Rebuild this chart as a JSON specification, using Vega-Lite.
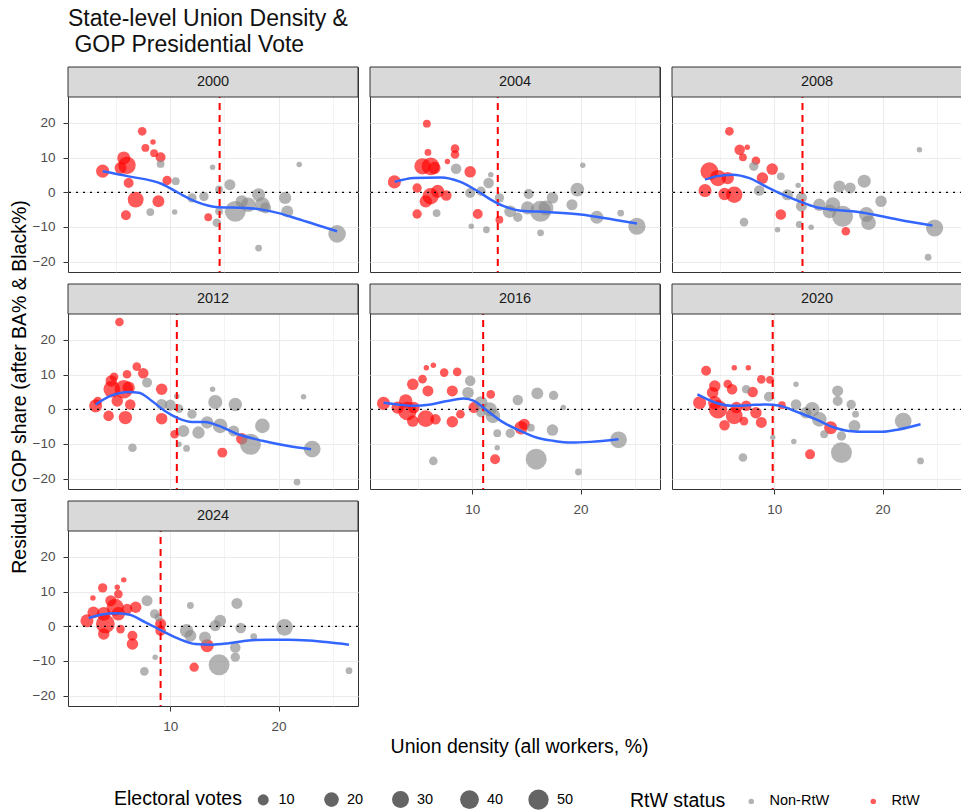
{
  "$schema": "https://vega.github.io/schema/vega-lite/v6.json",
  "padding": {"left": 8, "top": 7, "right": 0, "bottom": 0},
  "title": {"text": ["State-level Union Density &", "\u200b\u00a0GOP Presidential Vote"], "anchor": "start", "frame": "group", "fontSize": 23, "lineHeight": 26, "fontWeight": "normal", "font": "Liberation Sans", "color": "#111111", "offset": 9},
  "datasets": {
    "pts": [
      {"yr":2000,"u":3.75,"r":6.1,"ev":15,"s":"RtW"},{"yr":2000,"u":7.4,"r":17.6,"ev":6,"s":"RtW"},{"yr":2000,"u":8.4,"r":14.5,"ev":3,"s":"RtW"},{"yr":2000,"u":7.7,"r":12.8,"ev":5,"s":"RtW"},{"yr":2000,"u":8.5,"r":11.3,"ev":5,"s":"RtW"},{"yr":2000,"u":9.1,"r":10.1,"ev":8,"s":"RtW"},{"yr":2000,"u":5.7,"r":9.9,"ev":15,"s":"RtW"},{"yr":2000,"u":6.0,"r":7.8,"ev":32,"s":"RtW"},{"yr":2000,"u":5.4,"r":7.0,"ev":12,"s":"RtW"},{"yr":2000,"u":6.15,"r":2.7,"ev":8,"s":"RtW"},{"yr":2000,"u":6.8,"r":-2.1,"ev":25,"s":"RtW"},{"yr":2000,"u":8.9,"r":-2.6,"ev":12,"s":"RtW"},{"yr":2000,"u":5.9,"r":-6.6,"ev":8,"s":"RtW"},{"yr":2000,"u":9.7,"r":3.4,"ev":7,"s":"RtW"},{"yr":2000,"u":13.5,"r":-7.2,"ev":5,"s":"RtW"},
      {"yr":2000,"u":9.1,"r":8.2,"ev":5,"s":"Non-RtW"},{"yr":2000,"u":8.15,"r":-5.7,"ev":5,"s":"Non-RtW"},{"yr":2000,"u":10.4,"r":-5.7,"ev":3,"s":"Non-RtW"},{"yr":2000,"u":10.5,"r":3.2,"ev":5,"s":"Non-RtW"},{"yr":2000,"u":12.0,"r":-1.6,"ev":7,"s":"Non-RtW"},{"yr":2000,"u":13.1,"r":-1.2,"ev":7,"s":"Non-RtW"},{"yr":2000,"u":13.9,"r":7.2,"ev":3,"s":"Non-RtW"},{"yr":2000,"u":14.5,"r":0.8,"ev":5,"s":"Non-RtW"},{"yr":2000,"u":15.5,"r":2.2,"ev":10,"s":"Non-RtW"},{"yr":2000,"u":14.3,"r":-8.8,"ev":6,"s":"Non-RtW"},{"yr":2000,"u":16.0,"r":-5.5,"ev":54,"s":"Non-RtW"},{"yr":2000,"u":17.2,"r":-3.6,"ev":20,"s":"Non-RtW"},{"yr":2000,"u":18.15,"r":-0.7,"ev":15,"s":"Non-RtW"},{"yr":2000,"u":18.5,"r":-3.6,"ev":21,"s":"Non-RtW"},{"yr":2000,"u":16.6,"r":-2.6,"ev":13,"s":"Non-RtW"},{"yr":2000,"u":18.15,"r":-16.1,"ev":4,"s":"Non-RtW"},{"yr":2000,"u":20.6,"r":-1.6,"ev":13,"s":"Non-RtW"},{"yr":2000,"u":20.8,"r":-5.5,"ev":12,"s":"Non-RtW"},{"yr":2000,"u":21.9,"r":8.0,"ev":3,"s":"Non-RtW"},{"yr":2000,"u":25.4,"r":-12.0,"ev":33,"s":"Non-RtW"},{"yr":2000,"u":18.8,"r":-4.5,"ev":10,"s":"Non-RtW"},{"yr":2000,"u":14.5,"r":-5.5,"ev":5,"s":"Non-RtW"},
      {"yr":2004,"u":2.8,"r":3.0,"ev":15,"s":"RtW"},{"yr":2004,"u":5.8,"r":19.8,"ev":5,"s":"RtW"},{"yr":2004,"u":5.9,"r":11.5,"ev":4,"s":"RtW"},{"yr":2004,"u":8.4,"r":12.6,"ev":6,"s":"RtW"},{"yr":2004,"u":8.4,"r":10.9,"ev":6,"s":"RtW"},{"yr":2004,"u":7.7,"r":8.9,"ev":3,"s":"RtW"},{"yr":2004,"u":5.4,"r":7.5,"ev":27,"s":"RtW"},{"yr":2004,"u":6.15,"r":7.5,"ev":34,"s":"RtW"},{"yr":2004,"u":6.5,"r":7.0,"ev":13,"s":"RtW"},{"yr":2004,"u":9.8,"r":5.9,"ev":11,"s":"RtW"},{"yr":2004,"u":4.9,"r":1.25,"ev":7,"s":"RtW"},{"yr":2004,"u":6.15,"r":-1.15,"ev":27,"s":"RtW"},{"yr":2004,"u":6.8,"r":0.3,"ev":15,"s":"RtW"},{"yr":2004,"u":7.6,"r":-0.9,"ev":9,"s":"RtW"},{"yr":2004,"u":5.7,"r":-2.6,"ev":13,"s":"RtW"},{"yr":2004,"u":4.9,"r":-6.25,"ev":7,"s":"RtW"},{"yr":2004,"u":10.5,"r":-6.25,"ev":8,"s":"RtW"},{"yr":2004,"u":12.5,"r":-7.9,"ev":5,"s":"RtW"},
      {"yr":2004,"u":8.5,"r":6.8,"ev":9,"s":"Non-RtW"},{"yr":2004,"u":6.7,"r":-6.0,"ev":5,"s":"Non-RtW"},{"yr":2004,"u":9.8,"r":-0.2,"ev":8,"s":"Non-RtW"},{"yr":2004,"u":10.8,"r":0.3,"ev":7,"s":"Non-RtW"},{"yr":2004,"u":11.5,"r":2.7,"ev":9,"s":"Non-RtW"},{"yr":2004,"u":11.7,"r":5.1,"ev":3,"s":"Non-RtW"},{"yr":2004,"u":12.5,"r":-1.6,"ev":7,"s":"Non-RtW"},{"yr":2004,"u":9.9,"r":-9.8,"ev":3,"s":"Non-RtW"},{"yr":2004,"u":11.3,"r":-10.8,"ev":4,"s":"Non-RtW"},{"yr":2004,"u":13.5,"r":-5.5,"ev":12,"s":"Non-RtW"},{"yr":2004,"u":14.2,"r":-7.2,"ev":7,"s":"Non-RtW"},{"yr":2004,"u":15.1,"r":-4.5,"ev":15,"s":"Non-RtW"},{"yr":2004,"u":15.2,"r":-0.5,"ev":8,"s":"Non-RtW"},{"yr":2004,"u":16.3,"r":-5.5,"ev":55,"s":"Non-RtW"},{"yr":2004,"u":16.8,"r":-4.5,"ev":21,"s":"Non-RtW"},{"yr":2004,"u":16.3,"r":-11.7,"ev":4,"s":"Non-RtW"},{"yr":2004,"u":17.4,"r":-1.6,"ev":11,"s":"Non-RtW"},{"yr":2004,"u":19.2,"r":-3.6,"ev":10,"s":"Non-RtW"},{"yr":2004,"u":19.7,"r":0.8,"ev":17,"s":"Non-RtW"},{"yr":2004,"u":20.2,"r":7.8,"ev":3,"s":"Non-RtW"},{"yr":2004,"u":21.5,"r":-7.2,"ev":15,"s":"Non-RtW"},{"yr":2004,"u":23.7,"r":-6.0,"ev":4,"s":"Non-RtW"},{"yr":2004,"u":25.2,"r":-9.8,"ev":31,"s":"Non-RtW"},
      {"yr":2008,"u":5.85,"r":17.6,"ev":6,"s":"RtW"},{"yr":2008,"u":6.8,"r":12.3,"ev":9,"s":"RtW"},{"yr":2008,"u":7.5,"r":13.0,"ev":3,"s":"RtW"},{"yr":2008,"u":7.1,"r":10.1,"ev":5,"s":"RtW"},{"yr":2008,"u":8.3,"r":9.1,"ev":6,"s":"RtW"},{"yr":2008,"u":9.8,"r":6.7,"ev":11,"s":"RtW"},{"yr":2008,"u":8.9,"r":4.1,"ev":11,"s":"RtW"},{"yr":2008,"u":4.0,"r":6.1,"ev":34,"s":"RtW"},{"yr":2008,"u":4.8,"r":4.1,"ev":27,"s":"RtW"},{"yr":2008,"u":3.6,"r":0.5,"ev":15,"s":"RtW"},{"yr":2008,"u":5.7,"r":4.1,"ev":13,"s":"RtW"},{"yr":2008,"u":5.4,"r":-0.5,"ev":13,"s":"RtW"},{"yr":2008,"u":6.3,"r":-0.7,"ev":27,"s":"RtW"},{"yr":2008,"u":10.6,"r":-6.4,"ev":9,"s":"RtW"},{"yr":2008,"u":16.6,"r":-11.25,"ev":6,"s":"RtW"},
      {"yr":2008,"u":8.1,"r":7.5,"ev":7,"s":"Non-RtW"},{"yr":2008,"u":10.6,"r":4.6,"ev":5,"s":"Non-RtW"},{"yr":2008,"u":8.6,"r":0.5,"ev":9,"s":"Non-RtW"},{"yr":2008,"u":11.2,"r":-0.7,"ev":10,"s":"Non-RtW"},{"yr":2008,"u":12.2,"r":2.0,"ev":3,"s":"Non-RtW"},{"yr":2008,"u":12.5,"r":-1.6,"ev":10,"s":"Non-RtW"},{"yr":2008,"u":12.5,"r":-4.0,"ev":10,"s":"Non-RtW"},{"yr":2008,"u":7.2,"r":-8.6,"ev":6,"s":"Non-RtW"},{"yr":2008,"u":10.3,"r":-10.8,"ev":3,"s":"Non-RtW"},{"yr":2008,"u":12.3,"r":-9.3,"ev":4,"s":"Non-RtW"},{"yr":2008,"u":13.4,"r":-10.1,"ev":3,"s":"Non-RtW"},{"yr":2008,"u":14.15,"r":-3.6,"ev":13,"s":"Non-RtW"},{"yr":2008,"u":15.1,"r":-5.5,"ev":17,"s":"Non-RtW"},{"yr":2008,"u":15.4,"r":-3.6,"ev":21,"s":"Non-RtW"},{"yr":2008,"u":16.0,"r":1.7,"ev":12,"s":"Non-RtW"},{"yr":2008,"u":17.0,"r":1.25,"ev":10,"s":"Non-RtW"},{"yr":2008,"u":18.3,"r":3.2,"ev":15,"s":"Non-RtW"},{"yr":2008,"u":16.3,"r":-6.9,"ev":55,"s":"Non-RtW"},{"yr":2008,"u":18.5,"r":-6.4,"ev":21,"s":"Non-RtW"},{"yr":2008,"u":18.7,"r":-8.8,"ev":20,"s":"Non-RtW"},{"yr":2008,"u":19.85,"r":-2.6,"ev":11,"s":"Non-RtW"},{"yr":2008,"u":23.4,"r":12.3,"ev":3,"s":"Non-RtW"},{"yr":2008,"u":24.8,"r":-10.3,"ev":31,"s":"Non-RtW"},{"yr":2008,"u":24.2,"r":-18.75,"ev":4,"s":"Non-RtW"},
      {"yr":2012,"u":5.3,"r":25.2,"ev":6,"s":"RtW"},{"yr":2012,"u":3.1,"r":1.0,"ev":15,"s":"RtW"},{"yr":2012,"u":3.3,"r":2.4,"ev":6,"s":"RtW"},{"yr":2012,"u":4.8,"r":9.4,"ev":6,"s":"RtW"},{"yr":2012,"u":4.55,"r":8.2,"ev":11,"s":"RtW"},{"yr":2012,"u":6.0,"r":10.1,"ev":6,"s":"RtW"},{"yr":2012,"u":6.9,"r":12.3,"ev":6,"s":"RtW"},{"yr":2012,"u":7.5,"r":10.4,"ev":9,"s":"RtW"},{"yr":2012,"u":4.6,"r":5.8,"ev":29,"s":"RtW"},{"yr":2012,"u":5.7,"r":5.8,"ev":38,"s":"RtW"},{"yr":2012,"u":6.15,"r":6.25,"ev":13,"s":"RtW"},{"yr":2012,"u":5.1,"r":2.4,"ev":11,"s":"RtW"},{"yr":2012,"u":6.3,"r":1.4,"ev":9,"s":"RtW"},{"yr":2012,"u":5.85,"r":-2.4,"ev":16,"s":"RtW"},{"yr":2012,"u":4.3,"r":-1.9,"ev":9,"s":"RtW"},{"yr":2012,"u":9.2,"r":5.8,"ev":11,"s":"RtW"},{"yr":2012,"u":9.2,"r":-2.7,"ev":11,"s":"RtW"},{"yr":2012,"u":10.4,"r":-7.2,"ev":6,"s":"RtW"},{"yr":2012,"u":14.8,"r":-12.5,"ev":8,"s":"RtW"},{"yr":2012,"u":16.6,"r":-8.5,"ev":11,"s":"RtW"},
      {"yr":2012,"u":7.85,"r":7.7,"ev":8,"s":"Non-RtW"},{"yr":2012,"u":9.2,"r":1.4,"ev":10,"s":"Non-RtW"},{"yr":2012,"u":10.0,"r":1.2,"ev":10,"s":"Non-RtW"},{"yr":2012,"u":10.6,"r":3.8,"ev":3,"s":"Non-RtW"},{"yr":2012,"u":10.8,"r":0.2,"ev":6,"s":"Non-RtW"},{"yr":2012,"u":6.5,"r":-11.1,"ev":6,"s":"Non-RtW"},{"yr":2012,"u":10.8,"r":-10.1,"ev":3,"s":"Non-RtW"},{"yr":2012,"u":11.5,"r":-11.3,"ev":4,"s":"Non-RtW"},{"yr":2012,"u":11.2,"r":-6.25,"ev":12,"s":"Non-RtW"},{"yr":2012,"u":12.0,"r":-1.4,"ev":7,"s":"Non-RtW"},{"yr":2012,"u":12.6,"r":-6.7,"ev":13,"s":"Non-RtW"},{"yr":2012,"u":13.4,"r":-3.8,"ev":13,"s":"Non-RtW"},{"yr":2012,"u":13.9,"r":5.8,"ev":3,"s":"Non-RtW"},{"yr":2012,"u":14.15,"r":2.1,"ev":18,"s":"Non-RtW"},{"yr":2012,"u":14.6,"r":-4.8,"ev":20,"s":"Non-RtW"},{"yr":2012,"u":16.0,"r":1.4,"ev":16,"s":"Non-RtW"},{"yr":2012,"u":17.4,"r":-10.1,"ev":55,"s":"Non-RtW"},{"yr":2012,"u":18.5,"r":-4.8,"ev":20,"s":"Non-RtW"},{"yr":2012,"u":15.85,"r":-6.25,"ev":10,"s":"Non-RtW"},{"yr":2012,"u":22.3,"r":3.65,"ev":3,"s":"Non-RtW"},{"yr":2012,"u":23.1,"r":-11.5,"ev":29,"s":"Non-RtW"},{"yr":2012,"u":21.7,"r":-21.0,"ev":4,"s":"Non-RtW"},
      {"yr":2016,"u":1.8,"r":1.7,"ev":15,"s":"RtW"},{"yr":2016,"u":3.1,"r":0.5,"ev":13,"s":"RtW"},{"yr":2016,"u":3.85,"r":2.4,"ev":16,"s":"RtW"},{"yr":2016,"u":4.0,"r":-0.5,"ev":38,"s":"RtW"},{"yr":2016,"u":4.6,"r":0.5,"ev":11,"s":"RtW"},{"yr":2016,"u":4.5,"r":7.2,"ev":11,"s":"RtW"},{"yr":2016,"u":5.4,"r":8.7,"ev":6,"s":"RtW"},{"yr":2016,"u":5.75,"r":12.0,"ev":3,"s":"RtW"},{"yr":2016,"u":6.4,"r":12.7,"ev":3,"s":"RtW"},{"yr":2016,"u":5.9,"r":5.3,"ev":10,"s":"RtW"},{"yr":2016,"u":7.4,"r":10.6,"ev":6,"s":"RtW"},{"yr":2016,"u":8.6,"r":10.8,"ev":6,"s":"RtW"},{"yr":2016,"u":5.7,"r":-2.7,"ev":29,"s":"RtW"},{"yr":2016,"u":4.5,"r":-3.4,"ev":11,"s":"RtW"},{"yr":2016,"u":6.6,"r":-2.9,"ev":9,"s":"RtW"},{"yr":2016,"u":8.15,"r":5.3,"ev":10,"s":"RtW"},{"yr":2016,"u":8.15,"r":-3.6,"ev":11,"s":"RtW"},{"yr":2016,"u":8.9,"r":-1.4,"ev":6,"s":"RtW"},{"yr":2016,"u":10.15,"r":0.5,"ev":10,"s":"RtW"},{"yr":2016,"u":11.7,"r":4.3,"ev":6,"s":"RtW"},{"yr":2016,"u":12.1,"r":-14.4,"ev":8,"s":"RtW"},{"yr":2016,"u":14.5,"r":-5.3,"ev":16,"s":"RtW"},{"yr":2016,"u":14.8,"r":-4.3,"ev":10,"s":"RtW"},
      {"yr":2016,"u":9.8,"r":8.2,"ev":9,"s":"Non-RtW"},{"yr":2016,"u":9.6,"r":4.8,"ev":11,"s":"Non-RtW"},{"yr":2016,"u":10.8,"r":1.9,"ev":15,"s":"Non-RtW"},{"yr":2016,"u":11.6,"r":0.0,"ev":18,"s":"Non-RtW"},{"yr":2016,"u":11.9,"r":-1.9,"ev":20,"s":"Non-RtW"},{"yr":2016,"u":10.8,"r":-1.0,"ev":7,"s":"Non-RtW"},{"yr":2016,"u":12.3,"r":-6.9,"ev":5,"s":"Non-RtW"},{"yr":2016,"u":12.3,"r":-11.1,"ev":3,"s":"Non-RtW"},{"yr":2016,"u":6.4,"r":-14.9,"ev":6,"s":"Non-RtW"},{"yr":2016,"u":13.5,"r":-6.9,"ev":7,"s":"Non-RtW"},{"yr":2016,"u":14.2,"r":2.7,"ev":9,"s":"Non-RtW"},{"yr":2016,"u":16.0,"r":4.6,"ev":12,"s":"Non-RtW"},{"yr":2016,"u":17.5,"r":4.0,"ev":7,"s":"Non-RtW"},{"yr":2016,"u":15.4,"r":-5.3,"ev":5,"s":"Non-RtW"},{"yr":2016,"u":17.4,"r":-6.0,"ev":11,"s":"Non-RtW"},{"yr":2016,"u":18.4,"r":0.5,"ev":3,"s":"Non-RtW"},{"yr":2016,"u":15.9,"r":-14.4,"ev":55,"s":"Non-RtW"},{"yr":2016,"u":19.8,"r":-18.1,"ev":4,"s":"Non-RtW"},{"yr":2016,"u":23.5,"r":-8.8,"ev":29,"s":"Non-RtW"},
      {"yr":2020,"u":3.1,"r":1.9,"ev":15,"s":"RtW"},{"yr":2020,"u":3.7,"r":11.1,"ev":8,"s":"RtW"},{"yr":2020,"u":4.5,"r":6.7,"ev":11,"s":"RtW"},{"yr":2020,"u":4.3,"r":4.8,"ev":11,"s":"RtW"},{"yr":2020,"u":5.7,"r":7.3,"ev":6,"s":"RtW"},{"yr":2020,"u":6.1,"r":5.8,"ev":9,"s":"RtW"},{"yr":2020,"u":6.3,"r":12.0,"ev":3,"s":"RtW"},{"yr":2020,"u":7.6,"r":12.0,"ev":3,"s":"RtW"},{"yr":2020,"u":4.8,"r":0.0,"ev":38,"s":"RtW"},{"yr":2020,"u":4.5,"r":1.9,"ev":16,"s":"RtW"},{"yr":2020,"u":6.5,"r":0.5,"ev":11,"s":"RtW"},{"yr":2020,"u":6.3,"r":-1.9,"ev":29,"s":"RtW"},{"yr":2020,"u":5.4,"r":-4.6,"ev":9,"s":"RtW"},{"yr":2020,"u":7.2,"r":-3.4,"ev":6,"s":"RtW"},{"yr":2020,"u":7.4,"r":1.0,"ev":9,"s":"RtW"},{"yr":2020,"u":8.3,"r":-1.0,"ev":11,"s":"RtW"},{"yr":2020,"u":8.8,"r":-3.8,"ev":10,"s":"RtW"},{"yr":2020,"u":8.0,"r":5.0,"ev":9,"s":"RtW"},{"yr":2020,"u":8.8,"r":8.65,"ev":6,"s":"RtW"},{"yr":2020,"u":9.6,"r":8.5,"ev":5,"s":"RtW"},{"yr":2020,"u":10.7,"r":1.2,"ev":5,"s":"RtW"},{"yr":2020,"u":13.3,"r":-13.0,"ev":8,"s":"RtW"},{"yr":2020,"u":15.2,"r":-5.3,"ev":15,"s":"RtW"},
      {"yr":2020,"u":7.4,"r":5.8,"ev":6,"s":"Non-RtW"},{"yr":2020,"u":9.5,"r":3.65,"ev":8,"s":"Non-RtW"},{"yr":2020,"u":12.0,"r":7.2,"ev":3,"s":"Non-RtW"},{"yr":2020,"u":12.0,"r":1.4,"ev":9,"s":"Non-RtW"},{"yr":2020,"u":12.9,"r":-1.0,"ev":11,"s":"Non-RtW"},{"yr":2020,"u":13.5,"r":0.0,"ev":20,"s":"Non-RtW"},{"yr":2020,"u":14.15,"r":-2.9,"ev":20,"s":"Non-RtW"},{"yr":2020,"u":15.85,"r":5.3,"ev":10,"s":"Non-RtW"},{"yr":2020,"u":15.85,"r":2.4,"ev":8,"s":"Non-RtW"},{"yr":2020,"u":17.1,"r":1.4,"ev":7,"s":"Non-RtW"},{"yr":2020,"u":17.5,"r":-1.4,"ev":4,"s":"Non-RtW"},{"yr":2020,"u":17.4,"r":-4.8,"ev":12,"s":"Non-RtW"},{"yr":2020,"u":14.6,"r":-7.2,"ev":5,"s":"Non-RtW"},{"yr":2020,"u":16.2,"r":-7.7,"ev":7,"s":"Non-RtW"},{"yr":2020,"u":16.2,"r":-12.5,"ev":55,"s":"Non-RtW"},{"yr":2020,"u":7.1,"r":-13.9,"ev":6,"s":"Non-RtW"},{"yr":2020,"u":9.85,"r":-8.1,"ev":3,"s":"Non-RtW"},{"yr":2020,"u":11.8,"r":-9.3,"ev":3,"s":"Non-RtW"},{"yr":2020,"u":21.9,"r":-3.4,"ev":29,"s":"Non-RtW"},{"yr":2020,"u":23.5,"r":-14.9,"ev":4,"s":"Non-RtW"},
      {"yr":2024,"u":2.3,"r":1.6,"ev":15,"s":"RtW"},{"yr":2024,"u":2.9,"r":4.0,"ev":12,"s":"RtW"},{"yr":2024,"u":2.85,"r":8.2,"ev":3,"s":"RtW"},{"yr":2024,"u":3.75,"r":11.1,"ev":7,"s":"RtW"},{"yr":2024,"u":3.85,"r":3.6,"ev":17,"s":"RtW"},{"yr":2024,"u":4.5,"r":7.4,"ev":10,"s":"RtW"},{"yr":2024,"u":4.9,"r":5.5,"ev":30,"s":"RtW"},{"yr":2024,"u":5.1,"r":11.25,"ev":3,"s":"RtW"},{"yr":2024,"u":5.7,"r":13.4,"ev":3,"s":"RtW"},{"yr":2024,"u":5.2,"r":9.3,"ev":6,"s":"RtW"},{"yr":2024,"u":4.0,"r":0.7,"ev":40,"s":"RtW"},{"yr":2024,"u":5.2,"r":3.6,"ev":16,"s":"RtW"},{"yr":2024,"u":6.0,"r":5.0,"ev":9,"s":"RtW"},{"yr":2024,"u":6.8,"r":5.5,"ev":11,"s":"RtW"},{"yr":2024,"u":3.85,"r":-2.2,"ev":11,"s":"RtW"},{"yr":2024,"u":5.4,"r":-0.8,"ev":6,"s":"RtW"},{"yr":2024,"u":6.5,"r":-2.7,"ev":8,"s":"RtW"},{"yr":2024,"u":6.5,"r":-5.1,"ev":11,"s":"RtW"},{"yr":2024,"u":9.1,"r":0.7,"ev":10,"s":"RtW"},{"yr":2024,"u":9.1,"r":-1.25,"ev":9,"s":"RtW"},{"yr":2024,"u":13.4,"r":-5.6,"ev":15,"s":"RtW"},{"yr":2024,"u":12.2,"r":-11.8,"ev":7,"s":"RtW"},
      {"yr":2024,"u":7.85,"r":7.4,"ev":10,"s":"Non-RtW"},{"yr":2024,"u":8.55,"r":3.6,"ev":7,"s":"Non-RtW"},{"yr":2024,"u":8.9,"r":2.6,"ev":5,"s":"Non-RtW"},{"yr":2024,"u":7.6,"r":-13.0,"ev":6,"s":"Non-RtW"},{"yr":2024,"u":8.6,"r":-8.9,"ev":3,"s":"Non-RtW"},{"yr":2024,"u":11.85,"r":6.0,"ev":4,"s":"Non-RtW"},{"yr":2024,"u":11.5,"r":-1.25,"ev":16,"s":"Non-RtW"},{"yr":2024,"u":11.85,"r":-2.7,"ev":12,"s":"Non-RtW"},{"yr":2024,"u":13.2,"r":-3.2,"ev":12,"s":"Non-RtW"},{"yr":2024,"u":14.15,"r":0.2,"ev":10,"s":"Non-RtW"},{"yr":2024,"u":14.6,"r":1.6,"ev":12,"s":"Non-RtW"},{"yr":2024,"u":16.15,"r":6.6,"ev":10,"s":"Non-RtW"},{"yr":2024,"u":16.5,"r":-0.5,"ev":9,"s":"Non-RtW"},{"yr":2024,"u":17.7,"r":-3.0,"ev":4,"s":"Non-RtW"},{"yr":2024,"u":16.0,"r":-6.1,"ev":9,"s":"Non-RtW"},{"yr":2024,"u":16.0,"r":-8.9,"ev":7,"s":"Non-RtW"},{"yr":2024,"u":14.5,"r":-11.1,"ev":54,"s":"Non-RtW"},{"yr":2024,"u":20.55,"r":-0.3,"ev":28,"s":"Non-RtW"},{"yr":2024,"u":26.5,"r":-12.8,"ev":4,"s":"Non-RtW"}
    ],
    "med": [
      {"yr":2000,"u":14.55},{"yr":2004,"u":12.35},{"yr":2008,"u":12.6},{"yr":2012,"u":10.6},{"yr":2016,"u":11.0},{"yr":2020,"u":9.85},{"yr":2024,"u":9.1}
    ],
    "sm": [
      {"yr":2000,"u":3.75,"r":6.06},{"yr":2000,"u":6.15,"r":4.6},{"yr":2000,"u":9.23,"r":2.4},{"yr":2000,"u":10.77,"r":-0.2},{"yr":2000,"u":12.3,"r":-2.6},{"yr":2000,"u":14.46,"r":-4.3},{"yr":2000,"u":16.9,"r":-4.5},{"yr":2000,"u":18.46,"r":-5.0},{"yr":2000,"u":20.0,"r":-6.0},{"yr":2000,"u":21.5,"r":-7.4},{"yr":2000,"u":23.4,"r":-9.3},{"yr":2000,"u":25.4,"r":-11.25},
      {"yr":2004,"u":2.83,"r":3.0},{"yr":2004,"u":4.6,"r":4.1},{"yr":2004,"u":7.1,"r":4.3},{"yr":2004,"u":8.9,"r":3.0},{"yr":2004,"u":10.5,"r":0.3},{"yr":2004,"u":11.7,"r":-2.1},{"yr":2004,"u":12.9,"r":-4.0},{"yr":2004,"u":14.46,"r":-5.3},{"yr":2004,"u":16.9,"r":-5.7},{"yr":2004,"u":20.0,"r":-6.4},{"yr":2004,"u":23.1,"r":-7.9},{"yr":2004,"u":25.2,"r":-9.0},
      {"yr":2008,"u":3.6,"r":3.65},{"yr":2008,"u":4.6,"r":4.6},{"yr":2008,"u":6.15,"r":5.1},{"yr":2008,"u":7.7,"r":4.1},{"yr":2008,"u":9.2,"r":1.7},{"yr":2008,"u":10.8,"r":-0.7},{"yr":2008,"u":12.3,"r":-2.6},{"yr":2008,"u":13.85,"r":-4.3},{"yr":2008,"u":15.4,"r":-5.0},{"yr":2008,"u":17.2,"r":-5.5},{"yr":2008,"u":19.1,"r":-6.4},{"yr":2008,"u":21.5,"r":-7.9},{"yr":2008,"u":24.6,"r":-9.6},
      {"yr":2012,"u":3.1,"r":1.4},{"yr":2012,"u":4.6,"r":4.0},{"yr":2012,"u":6.15,"r":5.0},{"yr":2012,"u":7.1,"r":4.8},{"yr":2012,"u":8.3,"r":2.4},{"yr":2012,"u":9.5,"r":-0.5},{"yr":2012,"u":10.8,"r":-2.7},{"yr":2012,"u":12.0,"r":-3.65},{"yr":2012,"u":13.2,"r":-3.65},{"yr":2012,"u":14.5,"r":-4.8},{"yr":2012,"u":16.0,"r":-6.9},{"yr":2012,"u":18.5,"r":-9.1},{"yr":2012,"u":20.9,"r":-10.6},{"yr":2012,"u":23.0,"r":-11.5},
      {"yr":2016,"u":1.8,"r":1.9},{"yr":2016,"u":3.1,"r":1.4},{"yr":2016,"u":4.6,"r":1.0},{"yr":2016,"u":6.15,"r":1.4},{"yr":2016,"u":7.7,"r":2.4},{"yr":2016,"u":9.2,"r":3.1},{"yr":2016,"u":10.15,"r":2.4},{"yr":2016,"u":11.4,"r":-0.5},{"yr":2016,"u":12.9,"r":-3.85},{"yr":2016,"u":14.46,"r":-6.25},{"yr":2016,"u":16.0,"r":-8.2},{"yr":2016,"u":17.5,"r":-9.1},{"yr":2016,"u":19.1,"r":-9.6},{"yr":2016,"u":20.9,"r":-9.4},{"yr":2016,"u":23.5,"r":-8.65},
      {"yr":2020,"u":2.9,"r":4.3},{"yr":2020,"u":4.6,"r":1.9},{"yr":2020,"u":6.15,"r":1.0},{"yr":2020,"u":7.7,"r":1.2},{"yr":2020,"u":9.2,"r":1.4},{"yr":2020,"u":10.5,"r":1.0},{"yr":2020,"u":12.3,"r":-1.0},{"yr":2020,"u":13.85,"r":-2.9},{"yr":2020,"u":15.4,"r":-5.1},{"yr":2020,"u":16.9,"r":-6.25},{"yr":2020,"u":18.5,"r":-6.5},{"yr":2020,"u":20.0,"r":-6.5},{"yr":2020,"u":21.5,"r":-5.8},{"yr":2020,"u":23.5,"r":-4.3},
      {"yr":2024,"u":2.46,"r":2.4},{"yr":2024,"u":3.7,"r":3.4},{"yr":2024,"u":4.9,"r":3.75},{"yr":2024,"u":6.15,"r":3.4},{"yr":2024,"u":7.7,"r":1.15},{"yr":2024,"u":9.2,"r":-1.25},{"yr":2024,"u":10.8,"r":-3.65},{"yr":2024,"u":12.3,"r":-5.1},{"yr":2024,"u":13.85,"r":-5.3},{"yr":2024,"u":15.4,"r":-4.9},{"yr":2024,"u":17.2,"r":-4.1},{"yr":2024,"u":19.1,"r":-3.85},{"yr":2024,"u":20.9,"r":-3.85},{"yr":2024,"u":22.8,"r":-4.1},{"yr":2024,"u":24.6,"r":-4.6},{"yr":2024,"u":26.5,"r":-5.3}
    ]
  },
  "columns": 3,
  "spacing": {"row": 12, "column": 12},
  "bounds": "flush",
  "resolve": {"scale": {"color": "shared", "size": "shared", "x": "independent", "y": "independent"}, "axis": {"x": "independent", "y": "independent"}, "legend": {"color": "shared", "size": "shared"}},
  "concat": [
    {"width": 290, "height": 205, "layer": [
      {"data": {"name": "pts"}, "transform": [{"filter": "datum.yr == 2000"}], "mark": {"type": "circle", "opacity": 0.65},
       "encoding": {
        "x": {"field": "u", "type": "quantitative", "scale": {"domain": [0.55, 27.33], "nice": false, "zero": false}, "axis": {"values": [5,10,15,20,25], "labels": false, "ticks": false, "domain": false, "title": null, "gridWidth": {"condition": {"test": "datum.value % 10 != 0", "value": 0.6}, "value": 1.1}}},
        "y": {"field": "r", "type": "quantitative", "scale": {"domain": [-23, 36.16], "nice": false, "zero": false}, "axis": {"values": [-20,-15,-10,-5,0,5,10,15,20,25], "labelExpr": "datum.value % 10 == 0 ? datum.label : ''", "tickOpacity": {"condition": {"test": "datum.value % 10 != 0", "value": 0}, "value": 1}, "domain": false, "title": null, "gridWidth": {"condition": {"test": "datum.value % 10 != 0", "value": 0.6}, "value": 1.1}}},
        "size": {"field": "ev", "type": "quantitative", "title": "Electoral votes", "scale": {"type": "pow", "exponent": 0.6, "domain": [3, 55], "range": [30, 440]}, "legend": {"orient": "none", "legendX": 46, "legendY": 722, "direction": "horizontal", "gridAlign": "all", "columnPadding": 22, "values": [10,20,30,40,50], "symbolFillColor": "#111111", "symbolStrokeColor": "#111111", "symbolStrokeWidth": 0}},
        "color": {"field": "s", "type": "nominal", "title": "RtW status", "scale": {"domain": ["Non-RtW", "RtW"], "range": ["#8a8a8a", "#ff0000"]}, "legend": {"orient": "none", "legendX": 562, "legendY": 727, "direction": "horizontal", "gridAlign": "all", "columnPadding": 36, "titlePadding": 18, "labelOffset": 11, "symbolSize": 30}}
       }},
      {"data": {"values": [{}]}, "mark": {"type": "rule", "color": "#000000", "strokeDash": [2, 5], "strokeWidth": 1.3}, "encoding": {"y": {"datum": 0}}},
      {"data": {"name": "med"}, "transform": [{"filter": "datum.yr == 2000"}], "mark": {"type": "rule", "color": "#ff0000", "strokeDash": [7, 5], "strokeWidth": 2}, "encoding": {"x": {"field": "u", "type": "quantitative"}}},
      {"data": {"name": "sm"}, "transform": [{"filter": "datum.yr == 2000"}], "mark": {"type": "line", "color": "#3366ff", "strokeWidth": 2.5, "interpolate": "monotone"}, "encoding": {"x": {"field": "u", "type": "quantitative"}, "y": {"field": "r", "type": "quantitative"}}},
      {"data": {"values": [{}]}, "mark": {"type": "rect", "fill": "#d9d9d9", "stroke": "#333333", "strokeWidth": 1}, "encoding": {"y": {"datum": 27.5}, "y2": {"datum": 36.16}}},
      {"data": {"values": [{}]}, "mark": {"type": "text", "text": "2000", "fontSize": 14.5, "color": "#1a1a1a"}, "encoding": {"y": {"datum": 31.83}}}
    ]},
    {"width": 290, "height": 205, "layer": [
      {"data": {"name": "pts"}, "transform": [{"filter": "datum.yr == 2004"}], "mark": {"type": "circle", "opacity": 0.65},
       "encoding": {
        "x": {"field": "u", "type": "quantitative", "scale": {"domain": [0.55, 27.33], "nice": false, "zero": false}, "axis": {"values": [5,10,15,20,25], "labels": false, "ticks": false, "domain": false, "title": null, "gridWidth": {"condition": {"test": "datum.value % 10 != 0", "value": 0.6}, "value": 1.1}}},
        "y": {"field": "r", "type": "quantitative", "scale": {"domain": [-23, 36.16], "nice": false, "zero": false}, "axis": {"values": [-20,-15,-10,-5,0,5,10,15,20,25], "labels": false, "ticks": false, "domain": false, "title": null, "gridWidth": {"condition": {"test": "datum.value % 10 != 0", "value": 0.6}, "value": 1.1}}},
        "size": {"field": "ev", "type": "quantitative", "title": "Electoral votes", "scale": {"type": "pow", "exponent": 0.6, "domain": [3, 55], "range": [30, 440]}},
        "color": {"field": "s", "type": "nominal", "title": "RtW status", "scale": {"domain": ["Non-RtW", "RtW"], "range": ["#8a8a8a", "#ff0000"]}}
       }},
      {"data": {"values": [{}]}, "mark": {"type": "rule", "color": "#000000", "strokeDash": [2, 5], "strokeWidth": 1.3}, "encoding": {"y": {"datum": 0}}},
      {"data": {"name": "med"}, "transform": [{"filter": "datum.yr == 2004"}], "mark": {"type": "rule", "color": "#ff0000", "strokeDash": [7, 5], "strokeWidth": 2}, "encoding": {"x": {"field": "u", "type": "quantitative"}}},
      {"data": {"name": "sm"}, "transform": [{"filter": "datum.yr == 2004"}], "mark": {"type": "line", "color": "#3366ff", "strokeWidth": 2.5, "interpolate": "monotone"}, "encoding": {"x": {"field": "u", "type": "quantitative"}, "y": {"field": "r", "type": "quantitative"}}},
      {"data": {"values": [{}]}, "mark": {"type": "rect", "fill": "#d9d9d9", "stroke": "#333333", "strokeWidth": 1}, "encoding": {"y": {"datum": 27.5}, "y2": {"datum": 36.16}}},
      {"data": {"values": [{}]}, "mark": {"type": "text", "text": "2004", "fontSize": 14.5, "color": "#1a1a1a"}, "encoding": {"y": {"datum": 31.83}}}
    ]},
    {"width": 290, "height": 205, "layer": [
      {"data": {"name": "pts"}, "transform": [{"filter": "datum.yr == 2008"}], "mark": {"type": "circle", "opacity": 0.65},
       "encoding": {
        "x": {"field": "u", "type": "quantitative", "scale": {"domain": [0.55, 27.33], "nice": false, "zero": false}, "axis": {"values": [5,10,15,20,25], "labels": false, "ticks": false, "domain": false, "title": null, "gridWidth": {"condition": {"test": "datum.value % 10 != 0", "value": 0.6}, "value": 1.1}}},
        "y": {"field": "r", "type": "quantitative", "scale": {"domain": [-23, 36.16], "nice": false, "zero": false}, "axis": {"values": [-20,-15,-10,-5,0,5,10,15,20,25], "labels": false, "ticks": false, "domain": false, "title": null, "gridWidth": {"condition": {"test": "datum.value % 10 != 0", "value": 0.6}, "value": 1.1}}},
        "size": {"field": "ev", "type": "quantitative", "title": "Electoral votes", "scale": {"type": "pow", "exponent": 0.6, "domain": [3, 55], "range": [30, 440]}},
        "color": {"field": "s", "type": "nominal", "title": "RtW status", "scale": {"domain": ["Non-RtW", "RtW"], "range": ["#8a8a8a", "#ff0000"]}}
       }},
      {"data": {"values": [{}]}, "mark": {"type": "rule", "color": "#000000", "strokeDash": [2, 5], "strokeWidth": 1.3}, "encoding": {"y": {"datum": 0}}},
      {"data": {"name": "med"}, "transform": [{"filter": "datum.yr == 2008"}], "mark": {"type": "rule", "color": "#ff0000", "strokeDash": [7, 5], "strokeWidth": 2}, "encoding": {"x": {"field": "u", "type": "quantitative"}}},
      {"data": {"name": "sm"}, "transform": [{"filter": "datum.yr == 2008"}], "mark": {"type": "line", "color": "#3366ff", "strokeWidth": 2.5, "interpolate": "monotone"}, "encoding": {"x": {"field": "u", "type": "quantitative"}, "y": {"field": "r", "type": "quantitative"}}},
      {"data": {"values": [{}]}, "mark": {"type": "rect", "fill": "#d9d9d9", "stroke": "#333333", "strokeWidth": 1}, "encoding": {"y": {"datum": 27.5}, "y2": {"datum": 36.16}}},
      {"data": {"values": [{}]}, "mark": {"type": "text", "text": "2008", "fontSize": 14.5, "color": "#1a1a1a"}, "encoding": {"y": {"datum": 31.83}}}
    ]},
    {"width": 290, "height": 205, "layer": [
      {"data": {"name": "pts"}, "transform": [{"filter": "datum.yr == 2012"}], "mark": {"type": "circle", "opacity": 0.65},
       "encoding": {
        "x": {"field": "u", "type": "quantitative", "scale": {"domain": [0.55, 27.33], "nice": false, "zero": false}, "axis": {"values": [5,10,15,20,25], "labels": false, "ticks": false, "domain": false, "title": null, "gridWidth": {"condition": {"test": "datum.value % 10 != 0", "value": 0.6}, "value": 1.1}}},
        "y": {"field": "r", "type": "quantitative", "scale": {"domain": [-23, 36.16], "nice": false, "zero": false}, "axis": {"values": [-20,-15,-10,-5,0,5,10,15,20,25], "labelExpr": "datum.value % 10 == 0 ? datum.label : ''", "tickOpacity": {"condition": {"test": "datum.value % 10 != 0", "value": 0}, "value": 1}, "domain": false, "title": "Residual GOP share (after BA% & Black%)", "titlePadding": 3, "gridWidth": {"condition": {"test": "datum.value % 10 != 0", "value": 0.6}, "value": 1.1}}},
        "size": {"field": "ev", "type": "quantitative", "title": "Electoral votes", "scale": {"type": "pow", "exponent": 0.6, "domain": [3, 55], "range": [30, 440]}},
        "color": {"field": "s", "type": "nominal", "title": "RtW status", "scale": {"domain": ["Non-RtW", "RtW"], "range": ["#8a8a8a", "#ff0000"]}}
       }},
      {"data": {"values": [{}]}, "mark": {"type": "rule", "color": "#000000", "strokeDash": [2, 5], "strokeWidth": 1.3}, "encoding": {"y": {"datum": 0}}},
      {"data": {"name": "med"}, "transform": [{"filter": "datum.yr == 2012"}], "mark": {"type": "rule", "color": "#ff0000", "strokeDash": [7, 5], "strokeWidth": 2}, "encoding": {"x": {"field": "u", "type": "quantitative"}}},
      {"data": {"name": "sm"}, "transform": [{"filter": "datum.yr == 2012"}], "mark": {"type": "line", "color": "#3366ff", "strokeWidth": 2.5, "interpolate": "monotone"}, "encoding": {"x": {"field": "u", "type": "quantitative"}, "y": {"field": "r", "type": "quantitative"}}},
      {"data": {"values": [{}]}, "mark": {"type": "rect", "fill": "#d9d9d9", "stroke": "#333333", "strokeWidth": 1}, "encoding": {"y": {"datum": 27.5}, "y2": {"datum": 36.16}}},
      {"data": {"values": [{}]}, "mark": {"type": "text", "text": "2012", "fontSize": 14.5, "color": "#1a1a1a"}, "encoding": {"y": {"datum": 31.83}}}
    ]},
    {"width": 290, "height": 205, "layer": [
      {"data": {"name": "pts"}, "transform": [{"filter": "datum.yr == 2016"}], "mark": {"type": "circle", "opacity": 0.65},
       "encoding": {
        "x": {"field": "u", "type": "quantitative", "scale": {"domain": [0.55, 27.33], "nice": false, "zero": false}, "axis": {"values": [5,10,15,20,25], "labelExpr": "datum.value % 10 == 0 ? datum.label : ''", "tickOpacity": {"condition": {"test": "datum.value % 10 != 0", "value": 0}, "value": 1}, "domain": false, "title": null, "gridWidth": {"condition": {"test": "datum.value % 10 != 0", "value": 0.6}, "value": 1.1}}},
        "y": {"field": "r", "type": "quantitative", "scale": {"domain": [-23, 36.16], "nice": false, "zero": false}, "axis": {"values": [-20,-15,-10,-5,0,5,10,15,20,25], "labels": false, "ticks": false, "domain": false, "title": null, "gridWidth": {"condition": {"test": "datum.value % 10 != 0", "value": 0.6}, "value": 1.1}}},
        "size": {"field": "ev", "type": "quantitative", "title": "Electoral votes", "scale": {"type": "pow", "exponent": 0.6, "domain": [3, 55], "range": [30, 440]}},
        "color": {"field": "s", "type": "nominal", "title": "RtW status", "scale": {"domain": ["Non-RtW", "RtW"], "range": ["#8a8a8a", "#ff0000"]}}
       }},
      {"data": {"values": [{}]}, "mark": {"type": "rule", "color": "#000000", "strokeDash": [2, 5], "strokeWidth": 1.3}, "encoding": {"y": {"datum": 0}}},
      {"data": {"name": "med"}, "transform": [{"filter": "datum.yr == 2016"}], "mark": {"type": "rule", "color": "#ff0000", "strokeDash": [7, 5], "strokeWidth": 2}, "encoding": {"x": {"field": "u", "type": "quantitative"}}},
      {"data": {"name": "sm"}, "transform": [{"filter": "datum.yr == 2016"}], "mark": {"type": "line", "color": "#3366ff", "strokeWidth": 2.5, "interpolate": "monotone"}, "encoding": {"x": {"field": "u", "type": "quantitative"}, "y": {"field": "r", "type": "quantitative"}}},
      {"data": {"values": [{}]}, "mark": {"type": "rect", "fill": "#d9d9d9", "stroke": "#333333", "strokeWidth": 1}, "encoding": {"y": {"datum": 27.5}, "y2": {"datum": 36.16}}},
      {"data": {"values": [{}]}, "mark": {"type": "text", "text": "2016", "fontSize": 14.5, "color": "#1a1a1a"}, "encoding": {"y": {"datum": 31.83}}}
    ]},
    {"width": 290, "height": 205, "layer": [
      {"data": {"name": "pts"}, "transform": [{"filter": "datum.yr == 2020"}], "mark": {"type": "circle", "opacity": 0.65},
       "encoding": {
        "x": {"field": "u", "type": "quantitative", "scale": {"domain": [0.55, 27.33], "nice": false, "zero": false}, "axis": {"values": [5,10,15,20,25], "labelExpr": "datum.value % 10 == 0 ? datum.label : ''", "tickOpacity": {"condition": {"test": "datum.value % 10 != 0", "value": 0}, "value": 1}, "domain": false, "title": null, "gridWidth": {"condition": {"test": "datum.value % 10 != 0", "value": 0.6}, "value": 1.1}}},
        "y": {"field": "r", "type": "quantitative", "scale": {"domain": [-23, 36.16], "nice": false, "zero": false}, "axis": {"values": [-20,-15,-10,-5,0,5,10,15,20,25], "labels": false, "ticks": false, "domain": false, "title": null, "gridWidth": {"condition": {"test": "datum.value % 10 != 0", "value": 0.6}, "value": 1.1}}},
        "size": {"field": "ev", "type": "quantitative", "title": "Electoral votes", "scale": {"type": "pow", "exponent": 0.6, "domain": [3, 55], "range": [30, 440]}},
        "color": {"field": "s", "type": "nominal", "title": "RtW status", "scale": {"domain": ["Non-RtW", "RtW"], "range": ["#8a8a8a", "#ff0000"]}}
       }},
      {"data": {"values": [{}]}, "mark": {"type": "rule", "color": "#000000", "strokeDash": [2, 5], "strokeWidth": 1.3}, "encoding": {"y": {"datum": 0}}},
      {"data": {"name": "med"}, "transform": [{"filter": "datum.yr == 2020"}], "mark": {"type": "rule", "color": "#ff0000", "strokeDash": [7, 5], "strokeWidth": 2}, "encoding": {"x": {"field": "u", "type": "quantitative"}}},
      {"data": {"name": "sm"}, "transform": [{"filter": "datum.yr == 2020"}], "mark": {"type": "line", "color": "#3366ff", "strokeWidth": 2.5, "interpolate": "monotone"}, "encoding": {"x": {"field": "u", "type": "quantitative"}, "y": {"field": "r", "type": "quantitative"}}},
      {"data": {"values": [{}]}, "mark": {"type": "rect", "fill": "#d9d9d9", "stroke": "#333333", "strokeWidth": 1}, "encoding": {"y": {"datum": 27.5}, "y2": {"datum": 36.16}}},
      {"data": {"values": [{}]}, "mark": {"type": "text", "text": "2020", "fontSize": 14.5, "color": "#1a1a1a"}, "encoding": {"y": {"datum": 31.83}}}
    ]},
    {"width": 290, "height": 205, "layer": [
      {"data": {"name": "pts"}, "transform": [{"filter": "datum.yr == 2024"}], "mark": {"type": "circle", "opacity": 0.65},
       "encoding": {
        "x": {"field": "u", "type": "quantitative", "scale": {"domain": [0.55, 27.33], "nice": false, "zero": false}, "axis": {"values": [5,10,15,20,25], "labelExpr": "datum.value % 10 == 0 ? datum.label : ''", "tickOpacity": {"condition": {"test": "datum.value % 10 != 0", "value": 0}, "value": 1}, "domain": false, "title": "Union density (all workers, %)", "titleX": 451, "titleY": 31, "gridWidth": {"condition": {"test": "datum.value % 10 != 0", "value": 0.6}, "value": 1.1}}},
        "y": {"field": "r", "type": "quantitative", "scale": {"domain": [-23, 36.16], "nice": false, "zero": false}, "axis": {"values": [-20,-15,-10,-5,0,5,10,15,20,25], "labelExpr": "datum.value % 10 == 0 ? datum.label : ''", "tickOpacity": {"condition": {"test": "datum.value % 10 != 0", "value": 0}, "value": 1}, "domain": false, "title": null, "gridWidth": {"condition": {"test": "datum.value % 10 != 0", "value": 0.6}, "value": 1.1}}},
        "size": {"field": "ev", "type": "quantitative", "title": "Electoral votes", "scale": {"type": "pow", "exponent": 0.6, "domain": [3, 55], "range": [30, 440]}},
        "color": {"field": "s", "type": "nominal", "title": "RtW status", "scale": {"domain": ["Non-RtW", "RtW"], "range": ["#8a8a8a", "#ff0000"]}}
       }},
      {"data": {"values": [{}]}, "mark": {"type": "rule", "color": "#000000", "strokeDash": [2, 5], "strokeWidth": 1.3}, "encoding": {"y": {"datum": 0}}},
      {"data": {"name": "med"}, "transform": [{"filter": "datum.yr == 2024"}], "mark": {"type": "rule", "color": "#ff0000", "strokeDash": [7, 5], "strokeWidth": 2}, "encoding": {"x": {"field": "u", "type": "quantitative"}}},
      {"data": {"name": "sm"}, "transform": [{"filter": "datum.yr == 2024"}], "mark": {"type": "line", "color": "#3366ff", "strokeWidth": 2.5, "interpolate": "monotone"}, "encoding": {"x": {"field": "u", "type": "quantitative"}, "y": {"field": "r", "type": "quantitative"}}},
      {"data": {"values": [{}]}, "mark": {"type": "rect", "fill": "#d9d9d9", "stroke": "#333333", "strokeWidth": 1}, "encoding": {"y": {"datum": 27.5}, "y2": {"datum": 36.16}}},
      {"data": {"values": [{}]}, "mark": {"type": "text", "text": "2024", "fontSize": 14.5, "color": "#1a1a1a"}, "encoding": {"y": {"datum": 31.83}}}
    ]}
  ],
  "config": {
    "font": "Liberation Sans",
    "view": {"stroke": "#333333", "strokeWidth": 1},
    "axis": {"gridColor": "#ebebeb", "tickColor": "#333333", "tickSize": 5, "labelColor": "#4d4d4d", "labelFontSize": 13.5, "labelPadding": 8, "titleColor": "#000000", "titleFontSize": 19.5, "titleFontWeight": "normal"},
    "legend": {"titleOrient": "left", "titleFontSize": 19.5, "titleFontWeight": "normal", "titleColor": "#000000", "titlePadding": 14, "labelFontSize": 14.5, "labelColor": "#000000", "labelOffset": 8, "symbolType": "circle", "columnPadding": 24}
  }
}
